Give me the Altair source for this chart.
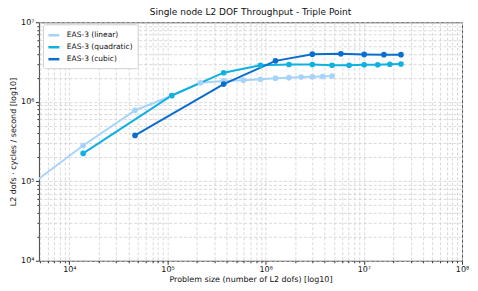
import altair as alt
import pandas as pd

series_names = ["EAS-3 (linear)", "EAS-3 (quadratic)", "EAS-3 (cubic)"]
series_colors = ["#a6d3fb", "#0fb0e2", "#0a6ecf"]

linear_x = [1728, 13824, 46656, 110592, 216000, 373248, 592704, 884736,
            1259712, 1728000, 2299968, 2985984, 3796416, 4741632]
linear_y = [4.1e4, 2.82e5, 7.8e5, 1.19e6, 1.73e6, 1.83e6, 1.87e6, 1.92e6,
            1.98e6, 2.01e6, 2.05e6, 2.06e6, 2.08e6, 2.11e6]

quad_x = [13824, 110592, 373248, 884736, 1728000, 2985984, 4741632,
          7077888, 10077696, 13824000, 18399744, 23887872]
quad_y = [2.24e5, 1.20e6, 2.32e6, 2.88e6, 2.94e6, 2.94e6, 2.88e6,
          2.88e6, 2.92e6, 2.92e6, 2.96e6, 2.99e6]

cubic_x = [46656, 373248, 1259712, 2985984, 5832000, 10077696, 16003008, 23887872]
cubic_y = [3.77e5, 1.67e6, 3.27e6, 3.97e6, 4.01e6, 3.94e6, 3.91e6, 3.91e6]

rows = []
for name, xs, ys in zip(series_names, [linear_x, quad_x, cubic_x], [linear_y, quad_y, cubic_y]):
    for i, (xv, yv) in enumerate(zip(xs, ys)):
        rows.append({"series": name, "x": xv, "y": yv, "order": i})
df = pd.DataFrame(rows)

x_ticks = [m * 10 ** e for e in range(3, 8) for m in range(1, 10) if 4900 <= m * 10 ** e <= 1e8] + [100000000]
y_ticks = [m * 10 ** e for e in range(4, 7) for m in range(1, 10)] + [10000000]

sup = {4: "⁴", 5: "⁵", 6: "⁶", 7: "⁷", 8: "⁸"}
label_expr = " : ".join([f"datum.value == {10**k} ? '10{sup[k]}'" for k in range(4, 9)]) + " : ''"
major_test = "indexof([10000,100000,1000000,10000000,100000000], datum.value) >= 0"

FONT = "DejaVu Sans"
W, H = 424, 239

color = alt.Color(
    "series:N",
    scale=alt.Scale(domain=series_names, range=series_colors),
    sort=series_names,
    legend=alt.Legend(
        title=None, orient="none", legendX=4, legendY=2,
        symbolType="stroke", symbolStrokeWidth=2.5, symbolSize=120,
        labelFont=FONT, labelFontSize=7.5, labelColor="#111",
        strokeColor="#d0d0d0", fillColor="white", padding=4,
        rowPadding=0, cornerRadius=2, labelOffset=6,
    ),
)

common_axis = dict(
    labelExpr=label_expr,
    tickSize={"condition": {"test": major_test, "value": 3.5}, "value": 2},
    gridDash=[3, 2], gridColor="#cfcfcf", gridWidth=0.8,
    labelFont=FONT, labelFontSize=8, labelColor="#111",
    titleFont=FONT, titleFontSize=8, titleFontWeight="normal", titleColor="#111",
    labelPadding=1.5, domain=False, tickColor="#333",
    labelFlush=False, labelOverlap=False,
)

x_enc = alt.X(
    "x:Q",
    scale=alt.Scale(type="log", domain=[4900, 1e8], nice=False),
    axis=alt.Axis(title="Problem size (number of L2 dofs) [log10]", values=x_ticks,
                  titlePadding=2, **common_axis),
)
y_enc = alt.Y(
    "y:Q",
    scale=alt.Scale(type="log", domain=[1e4, 1e7], nice=False),
    axis=alt.Axis(title="L2 dofs · cycles / second [log10]", values=y_ticks,
                  titleX=-21, titleY=H / 2, **common_axis),
)

lines = alt.Chart(df).mark_line(clip=True, strokeWidth=2).encode(
    x=x_enc, y=y_enc, color=color, order="order:Q", detail="series:N"
)
points = alt.Chart(df).mark_circle(clip=True, size=32, opacity=1).encode(
    x="x:Q", y="y:Q",
    color=alt.Color("series:N", scale=alt.Scale(domain=series_names, range=series_colors), legend=None),
)

chart = alt.layer(lines, points).properties(
    width=W, height=H,
    title=alt.TitleParams("Single node L2 DOF Throughput - Triple Point",
                          font=FONT, fontSize=9, fontWeight="normal", color="#111",
                          anchor="middle", offset=1),
    autosize=alt.AutoSizeParams(type="none"),
    padding={"left": 31, "top": 14, "right": 8, "bottom": 26},
).configure_view(stroke="#444", strokeWidth=1)

chart.save("out.html", embed_options={"renderer": "svg", "actions": False})
